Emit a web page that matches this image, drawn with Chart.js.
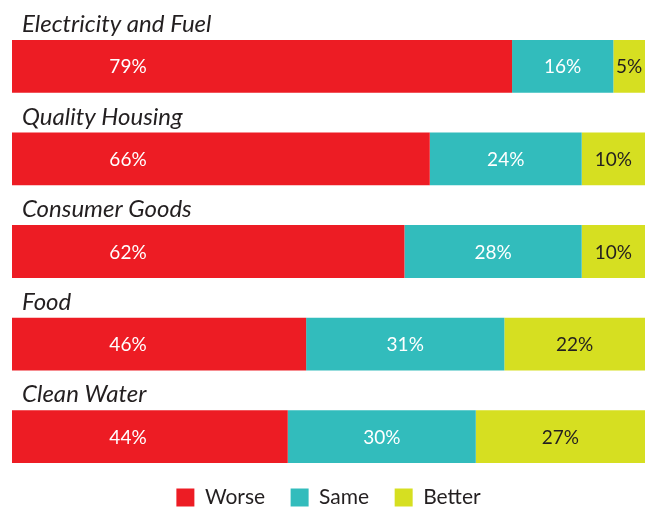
<!DOCTYPE html>
<html>
<head>
<meta charset="utf-8">
<script src="https://cdn.jsdelivr.net/npm/chart.js@4.4.1/dist/chart.umd.min.js"></script>
<style>
  html, body { margin: 0; padding: 0; background: #fff; }
  #wrap { width: 646px; height: 509px; }
</style>
</head>
<body>
<div id="wrap"><canvas id="myChart"></canvas></div>
<script>
// categories and answers
const categories = ['Electricity and Fuel', 'Quality Housing', 'Consumer Goods', 'Food', 'Clean Water'];
const worse = [79, 66, 62, 46, 44];
const same = [16, 24, 28, 31, 30];
const better = [5, 10, 10, 22, 27];

const seriesNames = ['Worse', 'Same', 'Better'];
const colors = ['#ED1C24', '#32BCBC', '#D6DF21'];
const textColors = ['#ffffff', '#ffffff', '#231F20'];

// rows don't always add to exactly 100 (rounding), so scale each row to 100
const raw = [worse, same, better];
const totals = categories.map((c, i) => worse[i] + same[i] + better[i]);
const scaled = raw.map(arr => arr.map((v, i) => v / totals[i] * 100));

const fontFamily = 'Lato, "Open Sans", sans-serif';

// category titles above each bar + value labels inside
const labelPlugin = {
  id: 'labels',
  afterDatasetsDraw(chart) {
    const ctx = chart.ctx;
    ctx.save();
    const first = chart.getDatasetMeta(0);
    ctx.font = 'italic 24px ' + fontFamily;
    ctx.fillStyle = '#231F20';
    ctx.textAlign = 'left';
    ctx.textBaseline = 'alphabetic';
    first.data.forEach((bar, i) => {
      ctx.fillText(categories[i], 22, bar.y - bar.height / 2 - 8);
    });

    ctx.font = '19px ' + fontFamily;
    ctx.textBaseline = 'middle';
    ctx.textAlign = 'center';
    chart.data.datasets.forEach((ds, d) => {
      const meta = chart.getDatasetMeta(d);
      ctx.fillStyle = textColors[d];
      meta.data.forEach((bar, i) => {
        let x = (bar.x + bar.base) / 2;
        if (d === 0) x = bar.base + 116; // red labels sit near the left
        ctx.fillText(raw[d][i] + '%', x, bar.y + 1);
      });
    });
    ctx.restore();
  }
};

document.addEventListener('DOMContentLoaded', function() {
  const ctx = document.getElementById('myChart').getContext('2d');

  new Chart(ctx, {
    type: 'bar',
    data: {
      labels: categories,
      datasets: seriesNames.map((name, d) => ({
        label: name,
        data: scaled[d],
        backgroundColor: colors[d],
        borderWidth: 0,
        barPercentage: 0.57,
        categoryPercentage: 1
      }))
    },
    options: {
      indexAxis: 'y',
      responsive: true,
      maintainAspectRatio: false,
      animation: false,
      layout: { padding: { top: 20, left: 12, right: 1, bottom: -9 } },
      scales: {
        x: { stacked: true, min: 0, max: 100, display: false },
        y: { stacked: true, display: false }
      },
      plugins: {
        tooltip: { enabled: false },
        legend: {
          position: 'bottom',
          labels: {
            boxWidth: 18,
            boxHeight: 18,
            padding: 4,
            color: '#231F20',
            font: { family: fontFamily, size: 21 },
            // pad the text a bit so the items sit further apart
            generateLabels(chart) {
              const items = Chart.defaults.plugins.legend.labels.generateLabels(chart);
              items.forEach((it, i) => {
                if (i < items.length - 1) it.text = it.text + '    ';
              });
              return items;
            }
          }
        }
      }
    },
    plugins: [labelPlugin]
  });
});
</script>
</body>
</html>
